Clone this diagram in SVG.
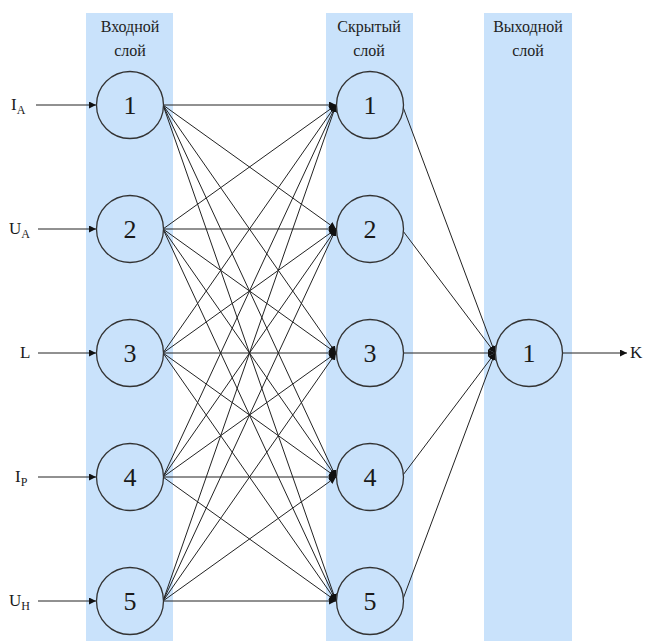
<svg xmlns="http://www.w3.org/2000/svg" width="647" height="641" viewBox="0 0 647 641">
  <defs>
    <marker id="arr" viewBox="0 0 10 10" refX="10" refY="5" markerWidth="7" markerHeight="7" markerUnits="userSpaceOnUse" orient="auto">
      <path d="M0,0 L10,5 L0,10 z" fill="#111"/>
    </marker>
  </defs>

  <!-- layer bands -->
  <g fill="#c9e2fb">
    <rect x="86" y="13" width="87" height="628"/>
    <rect x="326" y="13" width="87" height="628"/>
    <rect x="484" y="13" width="88" height="628"/>
  </g>

  <text x="130" y="32" font-family="Liberation Serif" font-size="16" fill="#222" text-anchor="middle">Входной</text>
  <text x="130" y="56" font-family="Liberation Serif" font-size="16" fill="#222" text-anchor="middle">слой</text>
  <text x="369" y="32" font-family="Liberation Serif" font-size="16" fill="#222" text-anchor="middle">Скрытый</text>
  <text x="369" y="56" font-family="Liberation Serif" font-size="16" fill="#222" text-anchor="middle">слой</text>
  <text x="528" y="32" font-family="Liberation Serif" font-size="16" fill="#222" text-anchor="middle">Выходной</text>
  <text x="528" y="56" font-family="Liberation Serif" font-size="16" fill="#222" text-anchor="middle">слой</text>

  <g id="connectors" stroke="#222" stroke-width="1" fill="none" marker-end="url(#arr)">
    <!-- inputs -->
    <line x1="36" y1="105" x2="96" y2="105"/>
    <line x1="38" y1="229" x2="96" y2="229"/>
    <line x1="38" y1="353" x2="96" y2="353"/>
    <line x1="38" y1="477" x2="96" y2="477"/>
    <line x1="38" y1="601" x2="96" y2="601"/>
    <!-- input layer to hidden layer -->
    <line x1="163" y1="105" x2="336" y2="105"/>
    <line x1="163" y1="105" x2="336" y2="229"/>
    <line x1="163" y1="105" x2="336" y2="353"/>
    <line x1="163" y1="105" x2="336" y2="477"/>
    <line x1="163" y1="105" x2="336" y2="601"/>
    <line x1="163" y1="229" x2="336" y2="105"/>
    <line x1="163" y1="229" x2="336" y2="229"/>
    <line x1="163" y1="229" x2="336" y2="353"/>
    <line x1="163" y1="229" x2="336" y2="477"/>
    <line x1="163" y1="229" x2="336" y2="601"/>
    <line x1="163" y1="353" x2="336" y2="105"/>
    <line x1="163" y1="353" x2="336" y2="229"/>
    <line x1="163" y1="353" x2="336" y2="353"/>
    <line x1="163" y1="353" x2="336" y2="477"/>
    <line x1="163" y1="353" x2="336" y2="601"/>
    <line x1="163" y1="477" x2="336" y2="105"/>
    <line x1="163" y1="477" x2="336" y2="229"/>
    <line x1="163" y1="477" x2="336" y2="353"/>
    <line x1="163" y1="477" x2="336" y2="477"/>
    <line x1="163" y1="477" x2="336" y2="601"/>
    <line x1="163" y1="601" x2="336" y2="105"/>
    <line x1="163" y1="601" x2="336" y2="229"/>
    <line x1="163" y1="601" x2="336" y2="353"/>
    <line x1="163" y1="601" x2="336" y2="477"/>
    <line x1="163" y1="601" x2="336" y2="601"/>
    <!-- hidden layer to output -->
    <line x1="403" y1="107" x2="495" y2="353"/>
    <line x1="403" y1="231" x2="495" y2="353"/>
    <line x1="403" y1="353" x2="495" y2="353"/>
    <line x1="403" y1="475" x2="495" y2="353"/>
    <line x1="403" y1="599" x2="495" y2="353"/>
    <!-- output -->
    <line x1="563" y1="353" x2="627" y2="353"/>
  </g>

  <!-- input layer nodes -->
  <g id="in1"><circle cx="130" cy="105" r="33.5" fill="#c9e2fb" stroke="#333" stroke-width="1.3"/><text x="130" y="114" font-family="Liberation Serif" font-size="26" fill="#1a1a1a" text-anchor="middle">1</text></g>
  <g id="in2"><circle cx="130" cy="229" r="33.5" fill="#c9e2fb" stroke="#333" stroke-width="1.3"/><text x="130" y="238" font-family="Liberation Serif" font-size="26" fill="#1a1a1a" text-anchor="middle">2</text></g>
  <g id="in3"><circle cx="130" cy="353" r="33.5" fill="#c9e2fb" stroke="#333" stroke-width="1.3"/><text x="130" y="362" font-family="Liberation Serif" font-size="26" fill="#1a1a1a" text-anchor="middle">3</text></g>
  <g id="in4"><circle cx="130" cy="477" r="33.5" fill="#c9e2fb" stroke="#333" stroke-width="1.3"/><text x="130" y="486" font-family="Liberation Serif" font-size="26" fill="#1a1a1a" text-anchor="middle">4</text></g>
  <g id="in5"><circle cx="130" cy="601" r="33.5" fill="#c9e2fb" stroke="#333" stroke-width="1.3"/><text x="130" y="610" font-family="Liberation Serif" font-size="26" fill="#1a1a1a" text-anchor="middle">5</text></g>

  <!-- hidden layer nodes -->
  <g id="h1"><circle cx="370" cy="105" r="33.5" fill="#c9e2fb" stroke="#333" stroke-width="1.3"/><text x="370" y="114" font-family="Liberation Serif" font-size="26" fill="#1a1a1a" text-anchor="middle">1</text></g>
  <g id="h2"><circle cx="370" cy="229" r="33.5" fill="#c9e2fb" stroke="#333" stroke-width="1.3"/><text x="370" y="238" font-family="Liberation Serif" font-size="26" fill="#1a1a1a" text-anchor="middle">2</text></g>
  <g id="h3"><circle cx="370" cy="353" r="33.5" fill="#c9e2fb" stroke="#333" stroke-width="1.3"/><text x="370" y="362" font-family="Liberation Serif" font-size="26" fill="#1a1a1a" text-anchor="middle">3</text></g>
  <g id="h4"><circle cx="370" cy="477" r="33.5" fill="#c9e2fb" stroke="#333" stroke-width="1.3"/><text x="370" y="486" font-family="Liberation Serif" font-size="26" fill="#1a1a1a" text-anchor="middle">4</text></g>
  <g id="h5"><circle cx="370" cy="601" r="33.5" fill="#c9e2fb" stroke="#333" stroke-width="1.3"/><text x="370" y="610" font-family="Liberation Serif" font-size="26" fill="#1a1a1a" text-anchor="middle">5</text></g>

  <!-- output node -->
  <g id="out1"><circle cx="529" cy="353" r="33.5" fill="#c9e2fb" stroke="#333" stroke-width="1.3"/><text x="529" y="362" font-family="Liberation Serif" font-size="26" fill="#1a1a1a" text-anchor="middle">1</text></g>

  <!-- signal labels -->
  <text x="11" y="110" font-family="Liberation Serif" font-size="17" fill="#1a1a1a">I<tspan font-size="12" dy="4">A</tspan></text>
  <text x="9" y="234" font-family="Liberation Serif" font-size="17" fill="#1a1a1a">U<tspan font-size="12" dy="4">A</tspan></text>
  <text x="20" y="358" font-family="Liberation Serif" font-size="17" fill="#1a1a1a">L</text>
  <text x="15" y="482" font-family="Liberation Serif" font-size="17" fill="#1a1a1a">I<tspan font-size="12" dy="4">P</tspan></text>
  <text x="9" y="606" font-family="Liberation Serif" font-size="17" fill="#1a1a1a">U<tspan font-size="12" dy="4">H</tspan></text>
  <text x="630" y="358" font-family="Liberation Serif" font-size="17" fill="#1a1a1a">K</text>
</svg>
